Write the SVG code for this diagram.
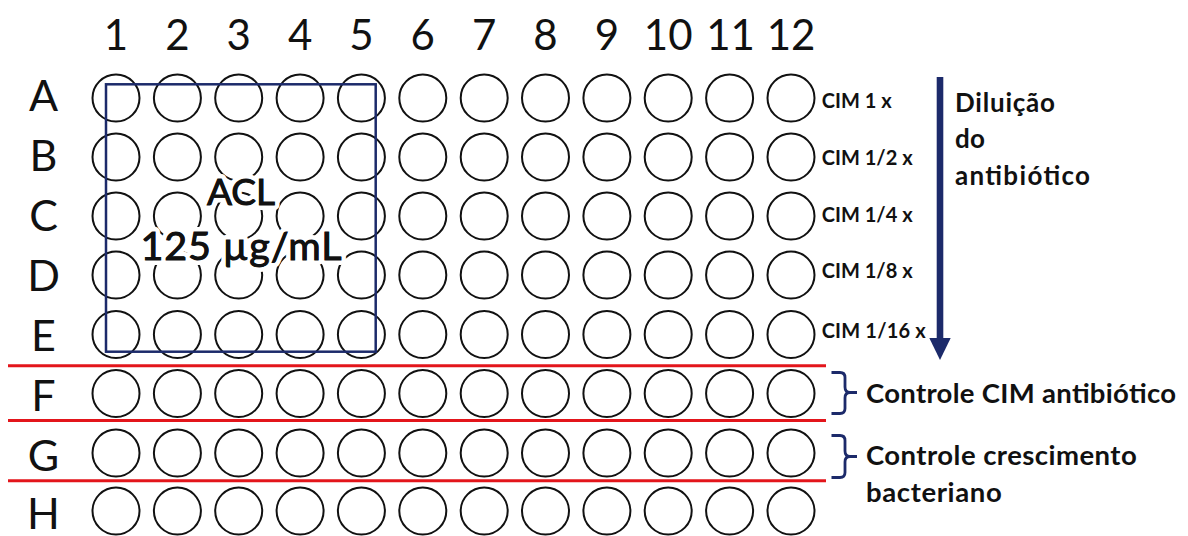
<svg xmlns="http://www.w3.org/2000/svg" width="1188" height="536" viewBox="0 0 1188 536">
<style>
.well{fill:none;stroke:#111;stroke-width:2}
.num{font-family:Lato,"Liberation Sans",sans-serif;font-size:42px;fill:#111;text-anchor:middle}
.row{font-family:Lato,"Liberation Sans",sans-serif;font-size:43px;fill:#111;text-anchor:middle}
.cim{font-family:Lato,"Liberation Sans",sans-serif;font-weight:bold;font-size:20px;fill:#111}
.lab{font-family:Lato,"Liberation Sans",sans-serif;font-weight:bold;font-size:26px;fill:#111}
.ctl{font-family:Lato,"Liberation Sans",sans-serif;font-weight:bold;font-size:27.5px;fill:#111}
.acl{font-family:Lato,"Liberation Sans",sans-serif;font-size:37px;fill:#111;text-anchor:middle;stroke:#fff;stroke-width:10px;stroke-linejoin:round;paint-order:stroke}
.aclf{font-family:Lato,"Liberation Sans",sans-serif;font-size:37px;fill:#111;text-anchor:middle;stroke:#111;stroke-width:0.9px}
.big{font-size:39.5px}
.red{stroke:#e3151b;stroke-width:3}
.navy{stroke:#1c2a6a;fill:none}
</style>
<defs>
<g id="wellrow">
<circle class="well" cx="116" cy="0" r="23.5"/>
<circle class="well" cx="177.4" cy="0" r="23.5"/>
<circle class="well" cx="238.7" cy="0" r="23.5"/>
<circle class="well" cx="300.1" cy="0" r="23.5"/>
<circle class="well" cx="361.4" cy="0" r="23.5"/>
<circle class="well" cx="422.8" cy="0" r="23.5"/>
<circle class="well" cx="484.2" cy="0" r="23.5"/>
<circle class="well" cx="545.5" cy="0" r="23.5"/>
<circle class="well" cx="606.9" cy="0" r="23.5"/>
<circle class="well" cx="668.2" cy="0" r="23.5"/>
<circle class="well" cx="729.6" cy="0" r="23.5"/>
<circle class="well" cx="791" cy="0" r="23.5"/>
</g>
</defs>
<rect width="1188" height="536" fill="#fff"/>
<g id="column-numbers">
<text class="num" x="116" y="49.5">1</text>
<text class="num" x="177.4" y="49.5">2</text>
<text class="num" x="238.7" y="49.5">3</text>
<text class="num" x="300.1" y="49.5">4</text>
<text class="num" x="361.4" y="49.5">5</text>
<text class="num" x="422.8" y="49.5">6</text>
<text class="num" x="484.2" y="49.5">7</text>
<text class="num" x="545.5" y="49.5">8</text>
<text class="num" x="606.9" y="49.5">9</text>
<text class="num" x="668.2" y="49.5">10</text>
<text class="num" x="730.5" y="49.5">11</text>
<text class="num" x="791" y="49.5">12</text>
</g>
<g id="row-letters">
<text class="row" x="43.5" y="111">A</text>
<text class="row" x="43.5" y="171">B</text>
<text class="row" x="43.5" y="231">C</text>
<text class="row" x="43.5" y="291">D</text>
<text class="row" x="43.5" y="351">E</text>
<text class="row" x="43.5" y="411">F</text>
<text class="row" x="43.5" y="471">G</text>
<text class="row" x="43.5" y="529">H</text>
</g>
<g id="row-A"><use href="#wellrow" y="98"/></g>
<g id="row-B"><use href="#wellrow" y="157"/></g>
<g id="row-C"><use href="#wellrow" y="216"/></g>
<g id="row-D"><use href="#wellrow" y="275"/></g>
<g id="row-E"><use href="#wellrow" y="334.5"/></g>
<g id="row-F"><use href="#wellrow" y="393.5"/></g>
<g id="row-G"><use href="#wellrow" y="453"/></g>
<g id="row-H"><use href="#wellrow" y="511"/></g>
<g id="acl-block">
<rect class="navy" x="106" y="84.3" width="269.7" height="267.4" stroke-width="2.5"/>
<text class="acl" x="241" y="205">ACL</text>
<text class="acl big" x="241" y="260" textLength="201">125 µg/mL</text>
<text class="aclf" x="241" y="205">ACL</text>
<text class="aclf big" x="241" y="260" textLength="201">125 µg/mL</text>
</g>
<g id="separators">
<line class="red" x1="8" y1="365.7" x2="826" y2="365.7"/>
<line class="red" x1="8" y1="420.5" x2="826" y2="420.5"/>
<line class="red" x1="8" y1="480.7" x2="826" y2="480.7"/>
</g>
<g id="cim-labels">
<text class="cim" x="821.7" y="108.3" textLength="70">CIM 1 x</text>
<text class="cim" x="821.7" y="165" textLength="91">CIM 1/2 x</text>
<text class="cim" x="821.7" y="221.7" textLength="91">CIM 1/4 x</text>
<text class="cim" x="821.7" y="278.3" textLength="91">CIM 1/8 x</text>
<text class="cim" x="821.7" y="338.3" textLength="104">CIM 1/16 x</text>
</g>
<g id="connectors">
<rect x="936.7" y="77" width="6.6" height="262" fill="#1c2a6a"/>
<polygon points="929.3,338 950.7,338 940,360" fill="#1c2a6a"/>
<path class="navy" stroke-width="2.8" d="M831.5,372.5 H840 Q845,372.5 845,377.5 V387 Q845,392.5 850,392.5 H857 M850,392.5 Q845,392.5 845,398 V408.5 Q845,413.5 840,413.5 H831.5"/>
<path class="navy" stroke-width="2.8" d="M831.5,435.5 H840 Q845,435.5 845,440.5 V451 Q845,456.5 850,456.5 H857 M850,456.5 Q845,456.5 845,462 V472.5 Q845,477.5 840,477.5 H831.5"/>
</g>
<g id="dilution-label">
<text class="lab" x="955" y="111.7" textLength="100">Diluição</text>
<text class="lab" x="955" y="148" textLength="30">do</text>
<text class="lab" x="955" y="185" textLength="135">antibiótico</text>
</g>
<g id="control-labels">
<text class="ctl" x="866" y="403.3" textLength="310">Controle CIM antibiótico</text>
<text class="ctl" x="866" y="465" textLength="270.7">Controle crescimento</text>
<text class="ctl" x="866" y="501.7" textLength="135.7">bacteriano</text>
</g>
</svg>
